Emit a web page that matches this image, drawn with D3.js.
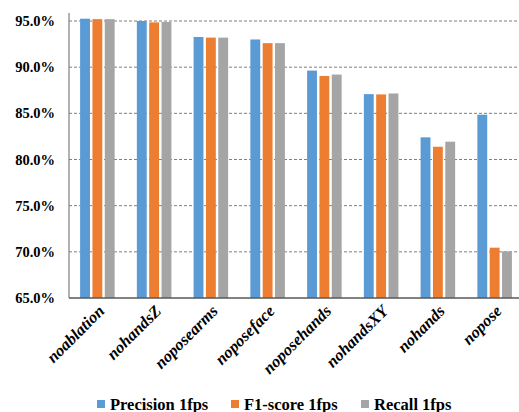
<!DOCTYPE html>
<html>
<head>
<meta charset="utf-8">
<script src="https://cdn.jsdelivr.net/npm/d3@7"></script>
<style>
  html, body { margin: 0; padding: 0; background: #fff; }
  svg { display: block; }
  svg text { font-family: "Liberation Serif", "Times New Roman", Times, serif; }
</style>
</head>
<body>
<svg id="chart" width="519" height="412"></svg>
<script>
// Ablation results: one group per variant, three metrics each (in %)
const categories = ["noablation", "nohandsZ", "noposearms", "noposeface", "noposehands", "nohandsXY", "nohands", "nopose"];
const seriesNames = ["Precision 1fps", "F1-score 1fps", "Recall 1fps"];
const precision = [95.25, 95.0, 93.27, 93.0, 89.63, 87.08, 82.4, 84.85];
const f1score   = [95.2, 94.85, 93.2, 92.6, 89.05, 87.05, 81.38, 70.45];
const recall    = [95.2, 94.9, 93.2, 92.6, 89.2, 87.15, 81.93, 70.05];
const yTicks = [65, 70, 75, 80, 85, 90, 95];
const colors = ["#5B9BD5", "#ED7D31", "#A5A5A5"];

const seriesValues = [precision, f1score, recall];
const serif = "'Liberation Serif', 'Times New Roman', Times, serif";

const svg = d3.select("#chart");
const plot = { left: 69, right: 523, top: 13, bottom: 298 };

const x0 = d3.scaleBand().domain(categories).range([plot.left, plot.right]).paddingInner(0).paddingOuter(0);
const x1 = d3.scaleBand().domain(seriesNames).range([0, x0.bandwidth()]).paddingInner(0.2).paddingOuter(0.9);
const y = d3.scaleLinear().domain([65, 95]).range([plot.bottom, 21]);

// Dashed horizontal gridlines
svg.append("g")
  .selectAll("line")
  .data(yTicks.filter(t => t > 65))
  .join("line")
  .attr("x1", plot.left).attr("x2", 519)
  .attr("y1", d => y(d)).attr("y2", d => y(d))
  .attr("stroke", "#7f7f7f")
  .attr("stroke-width", 1)
  .attr("stroke-dasharray", "3,2");

// Bars
const groups = svg.append("g")
  .selectAll("g")
  .data(categories)
  .join("g")
  .attr("transform", d => `translate(${x0(d)},0)`);

groups.selectAll("rect")
  .data((c, i) => seriesNames.map((s, k) => ({ s, k, v: seriesValues[k][i] })))
  .join("rect")
  .attr("x", d => x1(d.s))
  .attr("width", x1.bandwidth())
  .attr("y", d => y(d.v))
  .attr("height", d => y(65) - y(d.v))
  .attr("fill", d => colors[d.k]);

// Y axis
const yAxis = svg.append("g")
  .attr("transform", `translate(${plot.left},0)`)
  .call(d3.axisLeft(y).tickValues(yTicks).tickSize(0).tickPadding(14).tickFormat(d => d.toFixed(1) + "%"));
yAxis.attr("font-family", null);
yAxis.select(".domain").remove();
yAxis.selectAll("text")
  .style("font-family", serif)
  .style("font-size", "14.5px")
  .style("font-weight", "bold")
  .attr("fill", "#000");

svg.append("line")
  .attr("x1", plot.left).attr("x2", plot.left)
  .attr("y1", plot.top).attr("y2", plot.bottom)
  .attr("stroke", "#7f7f7f").attr("stroke-width", 1.2);
svg.append("line")
  .attr("x1", plot.left).attr("x2", 519)
  .attr("y1", plot.bottom).attr("y2", plot.bottom)
  .attr("stroke", "#595959").attr("stroke-width", 1.5);

// X axis labels, rotated
svg.append("g")
  .selectAll("text")
  .data(categories)
  .join("text")
  .attr("transform", d => `translate(${x0(d) + x0.bandwidth() / 2 + 8},${plot.bottom + 14}) rotate(-45)`)
  .attr("text-anchor", "end")
  .style("font-family", serif)
  .style("font-size", "16.5px")
  .style("font-weight", "bold")
  .style("font-style", "italic")
  .attr("fill", "#000")
  .text(d => d);

// Legend
const legendItems = [
  { name: seriesNames[0], x: 97 },
  { name: seriesNames[1], x: 231 },
  { name: seriesNames[2], x: 361 }
];
const lg = svg.append("g")
  .selectAll("g")
  .data(legendItems)
  .join("g")
  .attr("transform", d => `translate(${d.x},400)`);
lg.append("rect").attr("width", 8).attr("height", 8).attr("fill", (d, i) => colors[i]);
lg.append("text")
  .attr("x", 13).attr("y", 9.5)
  .style("font-family", serif)
  .style("font-size", "16.5px")
  .style("font-weight", "bold")
  .attr("fill", "#000")
  .text(d => d.name);
</script>
</body>
</html>
